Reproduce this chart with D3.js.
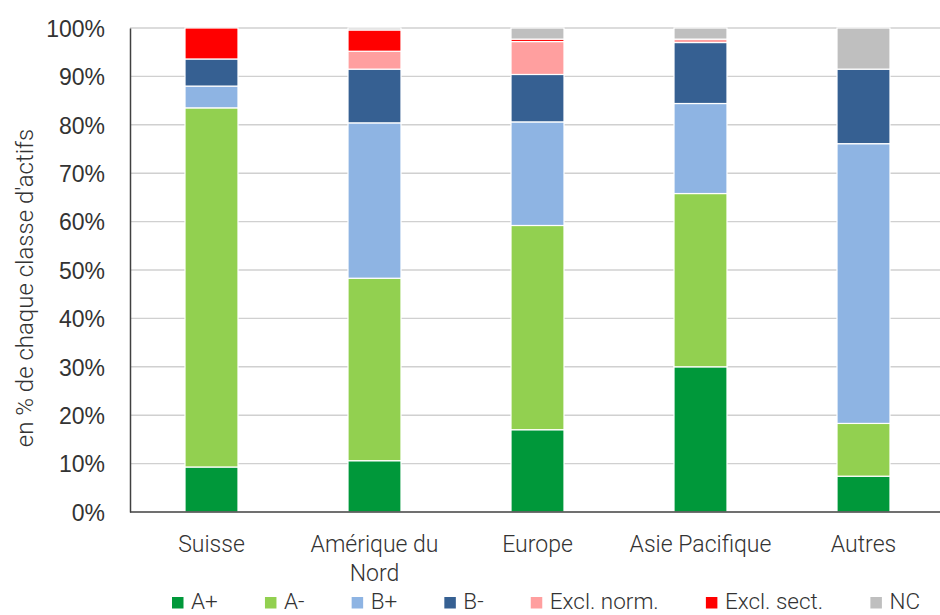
<!DOCTYPE html>
<html>
<head>
<meta charset="utf-8">
<script src="https://cdn.jsdelivr.net/npm/d3@7"></script>
<style>
  html, body { margin: 0; padding: 0; background: #fff; }
  svg { display: block; font-family: Roboto, "Liberation Sans", Arial, sans-serif; font-weight: 300; }
  text { fill: #333333; }
</style>
</head>
<body>
<svg id="chart" width="940" height="615"></svg>
<script>
// Répartition par notation ESG, en % de chaque classe d'actifs
const categories = ["Suisse", "Amérique du\nNord", "Europe", "Asie Pacifique", "Autres"];
const seriesNames = ["A+", "A-", "B+", "B-", "Excl. norm.", "Excl. sect.", "NC"];
const seriesColors = ["#00983A", "#92D050", "#8EB4E3", "#366092", "#FF9F9F", "#FF0000", "#BFBFBF"];

const aPlus    = [9.3, 10.6, 17.0, 30.0, 7.4];
const aMinus   = [74.2, 37.7, 42.2, 35.8, 10.9];
const bPlus    = [4.5, 32.1, 21.4, 18.6, 57.8];
const bMinus   = [5.6, 11.1, 9.8, 12.6, 15.4];
const exclNorm = [0, 3.7, 6.8, 0.7, 0];
const exclSect = [6.4, 4.4, 0.5, 0, 0];
const nc       = [0, 0.4, 2.3, 2.3, 8.5];

const yTicks = [0, 10, 20, 30, 40, 50, 60, 70, 80, 90, 100];
const yTitle = "en % de chaque classe d'actifs";

const seriesValues = [aPlus, aMinus, bPlus, bMinus, exclNorm, exclSect, nc];

// Tabular rows for d3.stack
const rows = categories.map((c, i) => {
  const r = { category: c };
  seriesNames.forEach((s, j) => { r[s] = seriesValues[j][i]; });
  return r;
});

const svg = d3.select("#chart");
const W = 940, H = 615;
const plot = { left: 130, right: 945, top: 28, bottom: 512 };

const x = d3.scaleBand()
  .domain(categories)
  .range([plot.left, plot.right])
  .paddingInner(0.675)
  .paddingOuter(0.3375);

const y = d3.scaleLinear()
  .domain([0, 100])
  .range([plot.bottom, plot.top]);

// Horizontal gridlines
svg.append("g")
  .selectAll("line")
  .data(yTicks.filter(t => t > 0))
  .join("line")
  .attr("x1", plot.left).attr("x2", W)
  .attr("y1", d => y(d)).attr("y2", d => y(d))
  .attr("stroke", "#d0d0d0")
  .attr("stroke-width", 1.4);

// Stacked bars
const stack = d3.stack().keys(seriesNames)(rows);
const color = d3.scaleOrdinal().domain(seriesNames).range(seriesColors);

svg.append("g")
  .selectAll("g")
  .data(stack)
  .join("g")
  .attr("fill", d => color(d.key))
  .selectAll("rect")
  .data(d => d.filter(p => p[1] - p[0] > 0))
  .join("rect")
  .attr("x", d => x(d.data.category))
  .attr("width", x.bandwidth())
  .attr("y", d => y(d[1]))
  .attr("height", d => y(d[0]) - y(d[1]))
  .attr("stroke", "#ffffff")
  .attr("stroke-width", 1.2);

// Y axis
const yAxis = svg.append("g")
  .attr("transform", `translate(${plot.left},0)`)
  .call(d3.axisLeft(y).tickValues(yTicks).tickSize(0).tickPadding(25).tickFormat(d => d + "%"));
yAxis.select(".domain").attr("stroke", "#404040").attr("stroke-width", 1.5);
yAxis.selectAll("text")
  .attr("font-size", 23)
  .attr("dy", "0.36em")
  .attr("fill", "#333333")
  .attr("font-family", null);

// X axis baseline
svg.append("line")
  .attr("x1", plot.left).attr("x2", W)
  .attr("y1", plot.bottom).attr("y2", plot.bottom)
  .attr("stroke", "#404040")
  .attr("stroke-width", 1.5);

// Category labels (multi-line)
const xLabels = svg.append("g")
  .selectAll("text")
  .data(categories)
  .join("text")
  .attr("text-anchor", "middle")
  .attr("font-size", 23)
  .attr("x", d => x(d) + x.bandwidth() / 2)
  .attr("y", 552);
xLabels.each(function (d) {
  const t = d3.select(this);
  const cx = x(d) + x.bandwidth() / 2;
  d.split("\n").forEach((line, i) => {
    t.append("tspan").attr("x", cx).attr("dy", i === 0 ? 0 : 29).text(line);
  });
});

// Y axis title
svg.append("text")
  .attr("transform", "translate(33,288) rotate(-90)")
  .attr("text-anchor", "middle")
  .attr("font-size", 24)
  .text(yTitle);

// Legend
const legend = svg.append("g");
const items = legend.selectAll("g")
  .data(seriesNames)
  .join("g");
items.append("rect")
  .attr("width", 11.5).attr("height", 11.5)
  .attr("y", 597)
  .attr("fill", d => color(d));
items.append("text")
  .attr("x", 19)
  .attr("y", 609)
  .attr("font-size", 22.5)
  .text(d => d);

// Lay out legend entries from their measured widths
const widths = [];
items.each(function () { widths.push(this.getBBox().width); });
const legendLeft = 172, legendRight = 920;
const totalW = d3.sum(widths);
const gap = (legendRight - legendLeft - totalW) / (widths.length - 1);
let cursor = legendLeft;
items.each(function (d, i) {
  d3.select(this).attr("transform", `translate(${cursor},0)`);
  cursor += widths[i] + gap;
});
</script>
</body>
</html>
